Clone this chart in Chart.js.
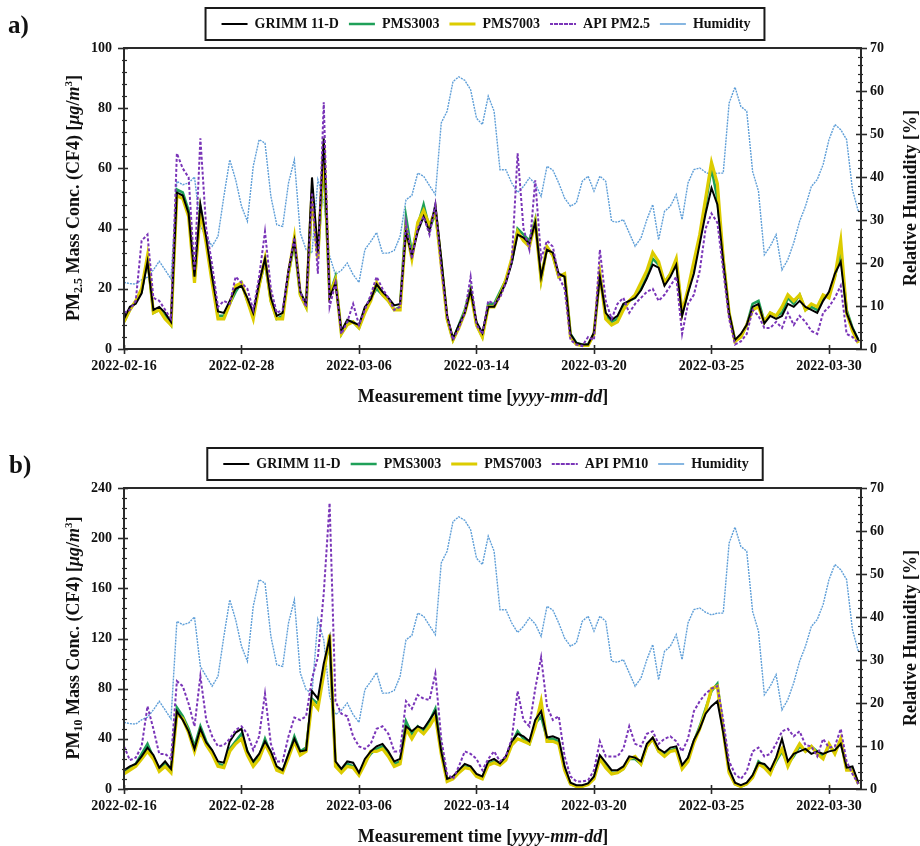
<!DOCTYPE html>
<html>
<head>
<meta charset="utf-8">
<script src="https://cdn.jsdelivr.net/npm/chart.js@4.4.0/dist/chart.umd.min.js"></script>
<style>
body { margin: 0; background: #fff; }
#page { position: relative; width: 920px; height: 846px; font-family: "Liberation Serif", "Times New Roman", serif; font-weight: bold; color: #111; }
canvas { position: absolute; left: 0; }
.lbl { position: absolute; white-space: nowrap; line-height: 1; }
.tag { font-size: 25px; }
.ytitle { font-size: 18px; transform: translate(-50%, -50%) rotate(-90deg); }
.xtitle { font-size: 18px; transform: translate(-50%, -50%); }
.lbl sub { font-size: 12px; vertical-align: -3px; line-height: 0; }
.lbl sup { font-size: 11px; vertical-align: 7px; line-height: 0; }
</style>
</head>
<body>
<div id="page">
	<canvas id="chart_pm25" width="920" height="406" style="top:0"></canvas>
	<canvas id="chart_pm10" width="920" height="406" style="top:440px"></canvas>

	<div class="lbl tag" style="left:8px; top:12px">a)</div>
	<div class="lbl tag" style="left:9px; top:452px">b)</div>

	<div class="lbl ytitle" style="left:73px; top:198px">PM<sub>2.5</sub> Mass Conc. (CF4) [<i>μg</i>/<i>m</i><sup>3</sup>]</div>
	<div class="lbl ytitle" style="left:73px; top:638px">PM<sub>10</sub> Mass Conc. (CF4) [<i>μg</i>/<i>m</i><sup>3</sup>]</div>
	<div class="lbl ytitle" style="left:910px; top:198px">Relative Humidity [%]</div>
	<div class="lbl ytitle" style="left:910px; top:638px">Relative Humidity [%]</div>

	<div class="lbl xtitle" style="left:483px; top:396px">Measurement time [<i>yyyy-mm-dd</i>]</div>
	<div class="lbl xtitle" style="left:483px; top:836px">Measurement time [<i>yyyy-mm-dd</i>]</div>
</div>

<script>
// tick labels on the time axis (sample index -> date)
var dateLabels = ['2022-02-16', '2022-02-28', '2022-03-06', '2022-03-14', '2022-03-20', '2022-03-25', '2022-03-30'];
var tickIndex = [0, 20, 40, 60, 80, 100, 120];

// relative humidity [%], shared by both panels
var humidity = [
	15.5,15.2,15.1,16.1,16.7,18.4,20.4,18.4,16.3,39.0,
	38.2,38.6,40.0,28.5,26.2,23.9,26.2,35.5,44.0,39.4,
	33.2,29.7,42.5,48.7,47.9,35.5,28.9,28.5,38.6,44.0,
	27.0,23.1,22.3,39.4,34.7,21.6,17.3,18.3,20.0,17.3,
	15.5,23.1,25.0,27.1,22.3,22.3,22.9,26.2,34.7,35.7,
	40.9,40.2,38.0,35.9,52.6,55.3,62.2,63.3,62.5,60.3,
	53.7,52.2,58.8,55.3,41.7,41.7,38.6,36.4,37.8,39.8,
	38.4,35.5,42.5,41.6,38.6,35.1,33.2,34.0,39.0,40.2,
	36.7,40.2,39.0,29.7,29.5,30.1,27.0,23.9,25.8,30.1,
	33.6,25.4,32.0,33.2,35.9,30.1,38.6,41.7,42.1,41.1,
	40.5,40.9,40.9,57.2,60.9,56.4,55.3,41.3,36.7,21.9,
	23.9,26.6,18.4,20.8,24.7,29.7,33.2,37.8,39.4,42.9,
	48.7,52.2,51.0,48.7,37.0,32.0
];

// a) PM2.5
var grimmPm25 = [
	10,14,15,18.5,29,13,14,12,9,52,
	51,45,24,48,37,24,12.5,12,16,20,
	21,17,12,22,30,17,11,12,26,36,
	19,15,57,32,70,17,22,6,9.7,8.8,
	8,14,16.5,21.5,19,17,14.5,15,39,31,
	39,44,39,48,30,11,3.5,8,12,19.5,
	9,5.3,14,14,18,22,28.6,38,37,35,
	42,24,33,32,25,24,5,2,1.5,1.5,
	5.5,24,12,9.7,11,15,16,17,19.5,23.5,
	28,27,21,24,28,11,18.6,25,35,45,
	53.5,48,29,12,3,5,8,14,15,8.5,
	11,10,11,15,14,16,14,13,12,16,
	19,25,29,12,7,3
];
var pms3003Pm25 = [
	9,13,16,19,30,12,13,11,8,53,
	52,46,23,47,36,23,11,11,15,19,
	22,16,11,21,29,16,10,11,25,35,
	18,14,50,31,62,18,24,5,9,9,
	7,13,17,20,18,16,13,14,44,32,
	41,48,40,45,29,10,3,8,13,20,
	8,4,15,15,19,23,29,40,38,36,
	43,23,34,31,24,25,5,2,1.5,1.5,
	5,25,11,9,10,14,16,17,20,24,
	30,28,22,25,29,12,19,27,37,48,
	60,50,30,12,3,4,8,15,16,9,
	12,11,12,17,15,18,13,14,13,17,
	18,24,32,13,7,3
];
var pms7003Pm25 = [
	9,13,16,20,31,12,13,10,8,51,
	50,44,22,46,35,22,10,10,15,21,
	22,16,10,21,30,16,10,10,25,37,
	18,14,52,30,68,18,23,5,8,9,
	7,12,16,22,18,16,13,13,40,30,
	42,46,41,46,28,10,3,7,12,19,
	8,4,14,14,18,23,30,39,36,34,
	42,23,34,31,24,25,4,1.5,1.2,1.2,
	5,25,10,8,9,13,16,18,22,26,
	32,29,22,25,30,12,20,29,38,50,
	62,55,30,12,2.5,4,8,13,14,9,
	12,11,14,18,16,18,13,15,14,18,
	17,24,36,12,6,2
];
var apiPm25 = [
	12,13,16,36,38,17,16,13,10,65,
	60,57,26,70,40,28,14,16,15,24,
	22,20,13,24,39,20,12,13,26,37,
	19,14,52,25,82,14,22,5,9,15,
	8,13,18,24,20,17,13,14,42,30,
	40,44,38,48,27,11,3,7,12,24,
	8,5,16,15,17,22,29,65,40,33,
	56,30,36,34,24,20,3,1.5,1,4,
	3,33,16,10,15,17,12,15,17,19,
	20,16,18,21,24,5,15,18,26,40,
	45,42,26,10,1.5,2.5,5,13,11,7,
	7,9,7,12,8,11,9,6,5,12,
	14,17,21,5,4,2
];

// b) PM10
var grimmPm10 = [
	15,18,20,26,33,27,17,22,16,62,
	55,46,32,48,37,31,22,21,38,45,
	48,30,22,28,38,30,18,15,28,40,
	30,31,78,72,100,120,22,16,22,21,
	13,24,30,34,36,30,22,24,50,46,
	50,48,55,62,30,8,10,15,20,18,
	12,10,22,24,20.5,26,38,44,42,38,
	55,62,41,42,40,18,5,3,3,4.5,
	10,27,21,15,15,18,26,25,22,36,
	41,32,29,33,34,19,25,39,48,60,
	66,70,45,16,5,3,5,11,21,20,
	15,25,40,22,28,30,32,28,30,28,
	30,31,36,17,18,5
];
var pms3003Pm10 = [
	13,17,20,28,36,25,16,20,14,65,
	58,48,34,50,38,30,20,19,32,38,
	44,30,20,26,40,28,16,14,27,42,
	30,33,72,68,96,116,20,14,20,18,
	12,22,28,32,34,28,20,22,54,44,
	50,46,54,64,32,7,9,14,18,17,
	11,9,20,22,20,25,36,46,40,36,
	52,58,40,40,38,16,4,2,2,4,
	9,25,18,13,13,16,24,24,20,34,
	40,30,27,31,32,17,24,38,50,64,
	78,84,48,14,4,2,4,10,22,18,
	13,22,30,20,26,34,30,34,30,26,
	34,30,38,16,16,4
];
var pms7003Pm10 = [
	12,15,18,24,30,24,14,18,13,60,
	56,45,30,46,35,28,18,17,30,36,
	40,27,18,24,36,27,15,13,25,38,
	27,30,70,64,92,123,18,13,18,17,
	11,20,30,30,32,26,18,20,48,40,
	48,44,50,58,28,6,8,13,17,16,
	10,8,19,21,19,23,35,40,38,36,
	50,70,38,38,36,15,4,2,2,3.5,
	8,24,17,12,13,16,24,26,20,34,
	40,30,26,30,31,16,22,37,48,62,
	80,82,46,13,4,2,4,9,20,17,
	12,24,32,18,28,36,30,34,28,24,
	36,28,40,15,15,4
];
var apiPm10 = [
	34,23,25,34,66,48,28,28,24,86,
	82,68,50,90,55,42,34,35,40,47,
	50,44,31,42,76,36,22,22,42,57,
	55,58,88,105,156,228,70,60,58,42,
	34,32,36,48,50,44,30,30,70,64,
	75,72,71,92,40,12,8,18,30,28,
	24,15,24,30,22,26,40,78,55,50,
	80,105,66,55,58,26,10,6,6,7,
	15,38,26,26,26,32,50,36,34,44,
	46,36,40,42,38,30,40,62,70,76,
	80,82,55,22,12,8,14,30,33,26,
	28,36,46,48,42,46,35,34,26,40,
	33,34,48,22,12,4
];

var serif = '"Liberation Serif", "Times New Roman", serif';
var tickFont = { family: serif, size: 14, weight: 'bold' };

/**
 * Ram, tickmarks och ruta runt legenden
 */
var framePlugin = {
	id: 'frame',
	afterDraw: function(chart)
	{
		var ctx = chart.ctx;
		var a = chart.chartArea;
		ctx.save();
		ctx.strokeStyle = '#2a2a2a';
		ctx.lineWidth = 1.6;

		//y-axlar: major + minor ticks
		[['y', -6, 4, -2, 3], ['y1', -5, 6, -3, 2]].forEach(function(t){
			var s = chart.scales[t[0]];
			var x0 = t[0] == 'y' ? a.left : a.right;
			var major = s.options.ticks.stepSize;
			var minor = major / 5;
			for(var k = 0; k * minor <= s.max + 1e-9; k++)
			{
				var y = Math.round(s.getPixelForValue(k * minor)) + 0.5;
				var isMajor = (k % 5) == 0;
				ctx.lineWidth = isMajor ? 1.6 : 1.2;
				ctx.beginPath();
				ctx.moveTo(x0 + (isMajor ? t[1] : t[3]), y);
				ctx.lineTo(x0 + (isMajor ? t[2] : t[4]), y);
				ctx.stroke();
			}
		});

		//x-axel
		var sx = chart.scales.x;
		ctx.lineWidth = 1.6;
		tickIndex.forEach(function(v){
			var x = Math.round(sx.getPixelForValue(v)) + 0.5;
			ctx.beginPath();
			ctx.moveTo(x, a.bottom - 4);
			ctx.lineTo(x, a.bottom + 5);
			ctx.stroke();
		});

		//ram
		ctx.lineWidth = 2;
		ctx.strokeRect(a.left, a.top, a.right - a.left, a.bottom - a.top);

		//legend-ruta
		var boxes = chart.legend.legendHitBoxes;
		if(boxes && boxes.length)
		{
			var first = boxes[0];
			var last = boxes[boxes.length - 1];
			var top = first.top + 7 - 16;
			ctx.lineWidth = 2;
			ctx.strokeStyle = '#1a1a1a';
			ctx.strokeRect(first.left - 16, top, last.left + last.width + 14 - (first.left - 16), 32);
		}
		ctx.restore();
	}
};

/**
 * Skapar en panel (PM + fuktighet)
 */
function setup_panel(canvas_id, series, api_label, y_max, y_step)
{
	var hourIndex = humidity.map(function(v, i){ return i; });

	var datasets = [
		{ label: 'GRIMM 11-D', data: series[0], borderColor: '#000000', borderWidth: 2, order: 1, yAxisID: 'y' },
		{ label: 'PMS3003', data: series[1], borderColor: '#1fa058', borderWidth: 2.6, order: 3, yAxisID: 'y' },
		{ label: 'PMS7003', data: series[2], borderColor: '#dccc00', borderWidth: 3.2, order: 2, yAxisID: 'y' },
		{ label: api_label, data: series[3], borderColor: '#7a35b8', borderWidth: 2, borderDash: [3, 2], order: 0, yAxisID: 'y' },
		{ label: 'Humidity', data: humidity, borderColor: '#5f9fd8', borderWidth: 1.4, borderDash: [2, 1], order: 4, yAxisID: 'y1' }
	];
	datasets.forEach(function(d){
		d.pointRadius = 0;
		d.fill = false;
		d.tension = 0;
		d.backgroundColor = d.borderColor;
	});

	var params = {
		type: 'line',
		data: { labels: hourIndex, datasets: datasets },
		options: {
			responsive: false,
			animation: false,
			devicePixelRatio: 1,
			layout: { padding: { top: 7, left: 52, right: 0, bottom: 0 } },
			plugins: {
				tooltip: { enabled: false },
				legend: {
					position: 'top',
					labels: {
						boxWidth: 26,
						boxHeight: 0,
						padding: 10,
						color: '#111',
						font: { family: serif, size: 14, weight: 'bold' },
						sort: function(a, b){ return a.datasetIndex - b.datasetIndex; }
					}
				}
			},
			scales: {
				x: {
					type: 'linear',
					position: 'bottom',
					min: 0,
					max: 125.45,
					afterBuildTicks: function(s){ s.ticks = tickIndex.map(function(v){ return { value: v }; }); },
					afterFit: function(s){ s.height = 57; },
					grid: { display: false, drawTicks: false },
					border: { display: false },
					ticks: {
						autoSkip: false, maxRotation: 0, padding: 9, color: '#111', font: tickFont,
						callback: function(v, i){ return dateLabels[i]; }
					}
				},
				xTop: {
					type: 'linear',
					position: 'top',
					afterFit: function(s){ s.height = Math.max(0, 41 - s.chart.legend.height); },
					grid: { display: false, drawTicks: false },
					border: { display: false },
					ticks: { display: false }
				},
				y: {
					position: 'left',
					min: 0,
					max: y_max,
					afterFit: function(s){ s.width = 72; },
					grid: { display: false, drawTicks: false },
					border: { display: false },
					ticks: { stepSize: y_step, padding: 12, color: '#111', font: tickFont }
				},
				y1: {
					position: 'right',
					min: 0,
					max: 70,
					afterFit: function(s){ s.width = 59; },
					grid: { display: false, drawTicks: false },
					border: { display: false },
					ticks: { stepSize: 10, padding: 9, color: '#111', font: tickFont }
				}
			}
		},
		plugins: [framePlugin]
	};
	new Chart(document.getElementById(canvas_id), params);
}

setup_panel('chart_pm25', [grimmPm25, pms3003Pm25, pms7003Pm25, apiPm25], 'API PM2.5', 100, 20);
setup_panel('chart_pm10', [grimmPm10, pms3003Pm10, pms7003Pm10, apiPm10], 'API PM10', 240, 40);
</script>
</body>
</html>
